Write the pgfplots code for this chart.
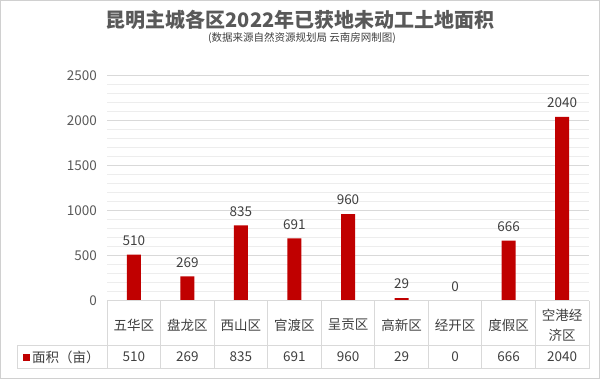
\documentclass[border=0pt]{standalone}
\usepackage{pgfplots}
\pgfplotsset{compat=1.18}
\usepackage{fontspec}
\setmainfont{Noto Sans CJK SC}
\definecolor{barred}{HTML}{C00000}
\definecolor{txt}{HTML}{404040}
\definecolor{tick}{HTML}{595959}
\definecolor{gmaj}{HTML}{D9D9D9}
\definecolor{gmin}{HTML}{EDEDED}
\definecolor{frame}{HTML}{D0D0D0}
\begin{document}
\begin{tikzpicture}[x=1pt,y=1pt]
\path[use as bounding box] (0,0) rectangle (600,381);
\fill[white] (0,0) rectangle (600,381);
\draw[frame, line width=1pt] (0.75,2.5) rectangle (599.25,380.5);
% title
\node[font=\bfseries\fontsize{20}{24}\selectfont, text=tick] at (300,361) {昆明主城各区2022年已获地未动工土地面积};
\node[font=\fontsize{10.5}{12}\selectfont, text=txt] at (302,343) {(数据来源自然资源规划局 云南房网制图)};
\begin{axis}[
  at={(107pt,80.3pt)}, anchor=south west,
  scale only axis, width=482pt, height=225.4pt,
  xmin=-0.5, xmax=8.5, ymin=0, ymax=2500,
  axis line style={draw=none},
  xtick=\empty,
  ytick={0,500,1000,1500,2000,2500},
  minor y tick num=4,
  ymajorgrids, yminorgrids,
  major grid style={gmaj, line width=0.8pt},
  minor grid style={gmin, line width=0.8pt},
  major tick length=0pt, minor tick length=0pt,
  yticklabel style={inner sep=0pt, xshift=-10pt, text=tick, font=\fontsize{13.5}{16}\selectfont},
  /pgf/number format/assume math mode=true,
  /pgf/number format/1000 sep={},
  clip=false,
  nodes near coords,
  nodes near coords style={anchor=south, inner sep=0pt, yshift=9pt, text=txt, font=\fontsize{13.5}{16}\selectfont, /pgf/number format/assume math mode=true},
]
\addplot[ybar, bar width=14pt, fill=barred, draw=none] coordinates {
(0,510) (1,269) (2,835) (3,691) (4,960) (5,29) (6,0) (7,666) (8,2040)
};
\end{axis}
% table lines
\draw[gmaj, line width=0.8pt] (107,80.3) -- (589,80.3);
\foreach \k in {0,...,9} {
  \draw[gmaj, line width=0.8pt] ({107+53.556*\k},80.3) -- ({107+53.556*\k},12.5);
}
\draw[gmaj, line width=0.8pt] (17,35.5) -- (589,35.5);
\draw[gmaj, line width=0.8pt] (17,12.5) -- (589,12.5);
\draw[gmaj, line width=0.8pt] (17,35.5) -- (17,12.5);
% header labels
\foreach \n [count=\i from 0] in {五华区,盘龙区,西山区,官渡区,呈贡区,高新区,经开区,度假区} {
  \node[font=\fontsize{13.5}{16}\selectfont, text=txt] at ({107+53.556*(\i+0.5)},56) {\n};
}
\node[font=\fontsize{13.5}{20}\selectfont, text=txt, align=center] at ({107+53.556*8.5},56) {空港经\\济区};
% data row
\foreach \v [count=\i from 0] in {510,269,835,691,960,29,0,666,2040} {
  \node[font=\fontsize{13.5}{16}\selectfont, text=txt] at ({107+53.556*(\i+0.5)},24) {\v};
}
\fill[barred] (23,20.5) rectangle (30,27.5);
\node[font=\fontsize{13.5}{16}\selectfont, text=txt, anchor=west, inner sep=0pt] at (32,24) {面积（亩）};
\end{tikzpicture}
\end{document}
